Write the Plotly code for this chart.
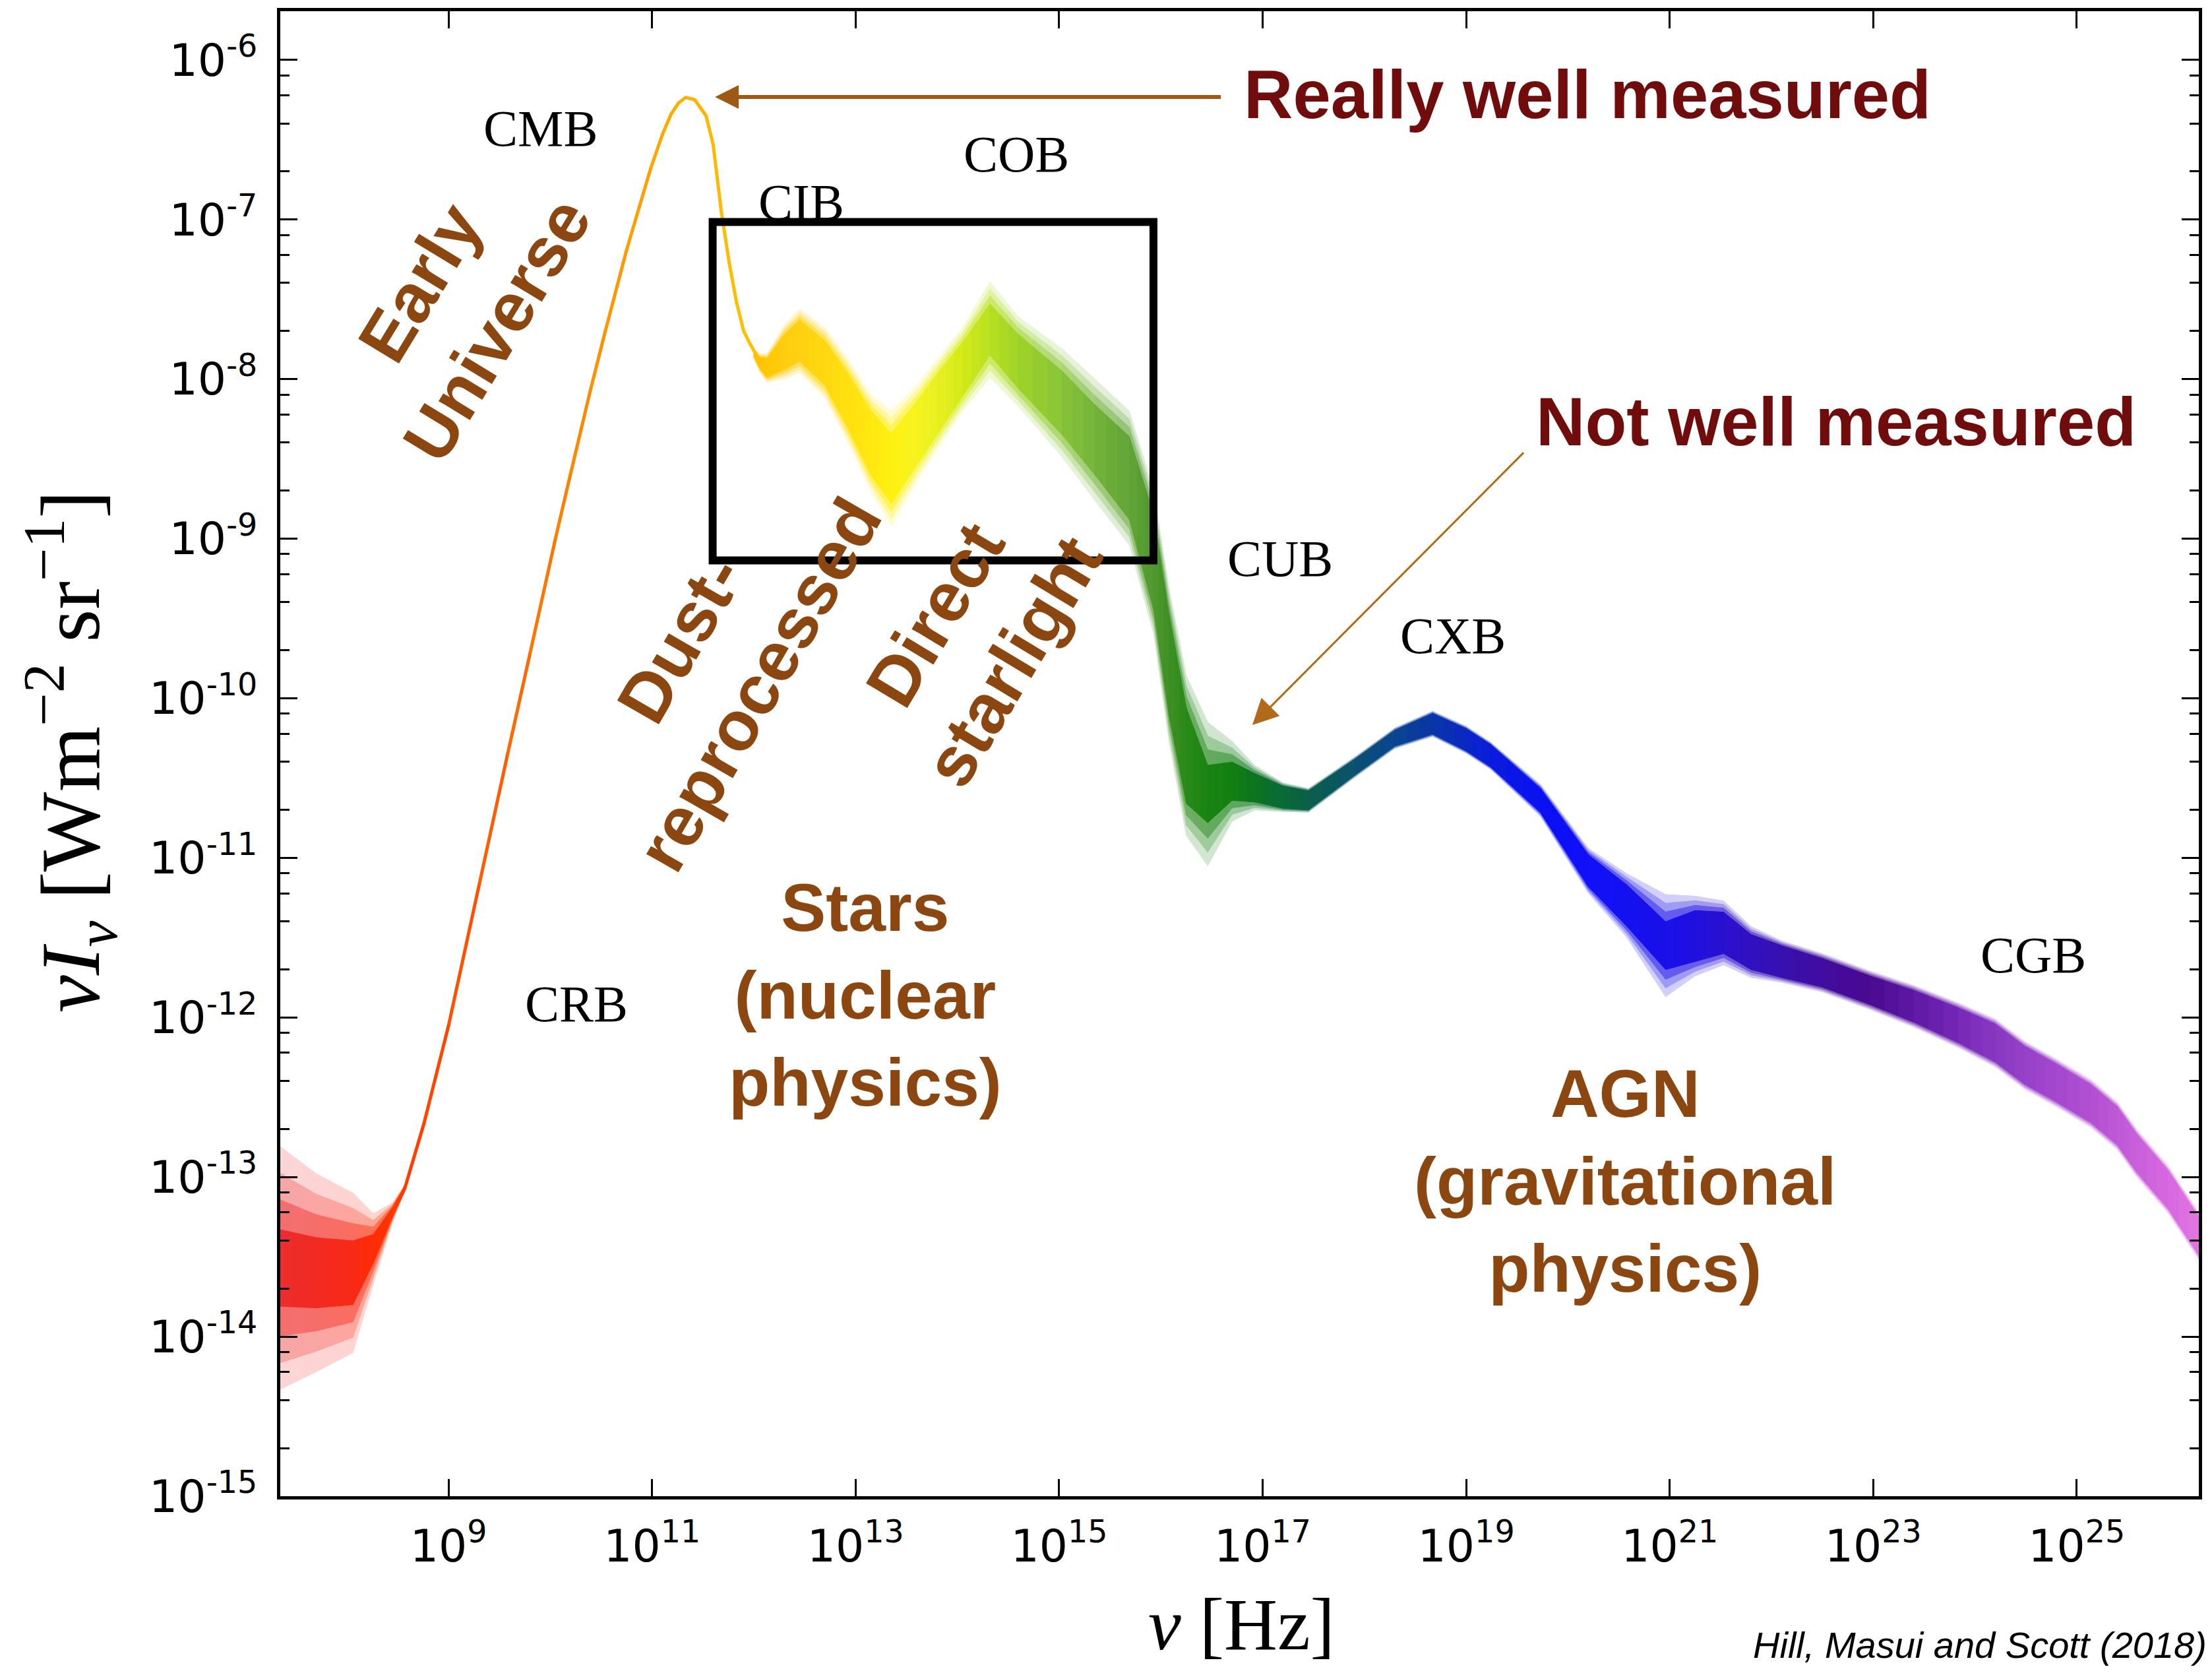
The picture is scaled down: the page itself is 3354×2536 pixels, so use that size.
import plotly.graph_objects as go

# ---------------- data ----------------
X_TICK_EXP = [9, 11, 13, 15, 17, 19, 21, 23, 25]
Y_TICK_EXP = [-6, -7, -8, -9, -10, -11, -12, -13, -14, -15]

# Cosmic radio background (low-frequency uncertain cloud)
CRB_LOG_NU = [7.346, 7.70, 8.06, 8.26, 8.45, 8.57]
CRB_LOG_FLUX = [-13.57, -13.60, -13.60, -13.45, -13.22, -13.07]
CRB_CORE_DEX = [0.24, 0.22, 0.20, 0.09, 0.03, 0.015]
CRB_HALO_DEX = [0.76, 0.62, 0.50, 0.22, 0.06, 0.02]
CRB_COLORS = ["#ec2c2c", "#f22a24", "#f82a16", "#ff2c06", "#ff3600", "#ff3c00"]

# CMB (well measured thin line)
CMB_LOG_NU = [8.45, 8.57, 8.76, 9.0, 9.3, 9.58, 9.8, 10.05, 10.2, 10.39, 10.54, 10.75,
              10.986, 11.1, 11.186, 11.26, 11.33, 11.42, 11.53, 11.6, 11.68, 11.76, 11.83,
              11.9, 11.963, 12.06, 12.13]
CMB_LOG_FLUX = [-13.22, -13.07, -12.66, -12.05, -11.17, -10.35, -9.72, -9.00, -8.59, -8.08,
                -7.70, -7.19, -6.68, -6.47, -6.34, -6.27, -6.235, -6.25, -6.35, -6.53,
                -6.95, -7.28, -7.52, -7.70, -7.78, -7.89, -7.93]
CMB_COLORS = ["#ff3800", "#ff3c00", "#ff4200", "#ff4a00", "#ff5600", "#ff6400", "#ff6e00",
              "#ff7c00", "#ff8400", "#ff8c00", "#ff9400", "#ff9c00", "#ffa400", "#ffa800",
              "#ffac00", "#ffb000", "#ffb200", "#ffb400", "#ffb600", "#ffb800", "#ffba00",
              "#ffbc00", "#ffbe00", "#ffc000", "#ffc000", "#ffc200", "#ffc400"]

# CIB -> CGB band
BAND_LOG_NU = [12.0, 12.06, 12.13, 12.3, 12.45, 12.7, 12.92, 13.15, 13.35, 13.6, 13.81,
               14.05, 14.32, 14.6, 15.03, 15.35, 15.69, 15.93, 16.08, 16.25, 16.46, 16.7,
               16.92, 17.2, 17.45, 17.91, 18.3, 18.67, 19.0, 19.24, 19.73, 20.2, 20.58,
               20.96, 21.25, 21.53, 21.8, 22.1, 22.5, 22.97, 23.4, 23.84, 24.2, 24.49,
               24.8, 25.14, 25.4, 25.59, 25.9, 26.2]
BAND_LOG_FLUX = [-7.84, -7.90, -7.93, -7.83, -7.76, -7.90, -8.13, -8.40, -8.56, -8.34, -8.15,
                 -7.94, -7.69, -7.89, -8.15, -8.38, -8.62, -9.15, -9.79, -10.36, -10.60,
                 -10.52, -10.56, -10.62, -10.64, -10.43, -10.25, -10.16, -10.26, -10.36,
                 -10.64, -11.08, -11.30, -11.55, -11.49, -11.47, -11.59, -11.65, -11.72,
                 -11.83, -11.93, -12.05, -12.16, -12.30, -12.41, -12.54, -12.68, -12.85,
                 -13.08, -13.37]
BAND_CORE_DEX = [0.02, 0.035, 0.06, 0.11, 0.13, 0.14, 0.17, 0.20, 0.22, 0.20, 0.19,
                 0.17, 0.16, 0.17, 0.20, 0.22, 0.26, 0.30, 0.32, 0.30, 0.18, 0.12,
                 0.09, 0.07, 0.06, 0.05, 0.05, 0.065, 0.07, 0.07, 0.075, 0.10, 0.13,
                 0.15, 0.16, 0.13, 0.11, 0.10, 0.09, 0.09, 0.10, 0.11, 0.12, 0.12,
                 0.12, 0.12, 0.12, 0.12, 0.12, 0.12]
BAND_HALO_DEX = [0.03, 0.06, 0.09, 0.17, 0.20, 0.22, 0.26, 0.30, 0.36, 0.30, 0.28,
                 0.26, 0.30, 0.28, 0.34, 0.38, 0.42, 0.45, 0.48, 0.50, 0.45, 0.25,
                 0.14, 0.09, 0.075, 0.065, 0.065, 0.08, 0.085, 0.085, 0.10, 0.14, 0.20,
                 0.32, 0.25, 0.20, 0.16, 0.13, 0.12, 0.12, 0.13, 0.14, 0.15, 0.15,
                 0.15, 0.15, 0.15, 0.15, 0.15, 0.15]
BAND_COLORS = ["#ffc200", "#ffc400", "#ffc800", "#ffcc10", "#ffd010", "#ffd810", "#ffe010",
               "#ffe810", "#fff010", "#f6f420", "#e8f020", "#d4ea18", "#b8e020", "#a0d428",
               "#88c438", "#74b43a", "#62a438", "#50982e", "#3e9024", "#2a8a18", "#1a8412",
               "#118010", "#0c7420", "#0a6a36", "#0a6048", "#0a5070", "#0a4490", "#0a36a6",
               "#0a28c4", "#0a1cdc", "#0a10f2", "#1010f8", "#1410f0", "#1a10e8", "#2010e0",
               "#2a10d0", "#3010c0", "#3810b0", "#400ca0", "#4a0a90", "#5e18a4", "#7628b6",
               "#8838c2", "#9640c8", "#a448ce", "#b250d2", "#be58d6", "#c860da", "#d668de",
               "#e476e2"]

# highlighted box (log10 units)
BOX_LOG_NU = [11.595, 15.927]
BOX_LOG_FLUX = [-9.136, -7.016]

# ---------------- geometry ----------------
W, H = 3354, 2536
PL, PR, PT, PB = 425, 3334, 15, 2268
X_RANGE = [7.346, 26.20]
Y_RANGE = [-15.0, -5.695]


def px(xp, yp):
    return (xp - PL) / (PR - PL), (PB - yp) / (PB - PT)


def hex2rgb(h):
    h = h.lstrip("#")
    return tuple(int(h[i:i + 2], 16) for i in (0, 2, 4))


def rgb2str(c):
    return "rgb(%d,%d,%d)" % tuple(int(round(v)) for v in c)


def blend(c1, c2, t):
    return tuple(a + (b - a) * t for a, b in zip(c1, c2))


def lighten(c, f):
    return tuple(v + (255 - v) * f for v in c)


LAYERS = [(1.0, 0.80), (0.68, 0.58), (0.36, 0.32), (0.0, 0.0)]  # (position between core/halo, whitening)
NSUB = 3


def band_layers(lognu, logf, core, halo, cols):
    out = []
    rgb = [hex2rgb(c) for c in cols]
    for pos, fw in LAYERS:
        widths = [c + (h - c) * pos for c, h in zip(core, halo)]
        traces = []
        for i in range(len(lognu) - 1):
            for k in range(NSUB):
                # straight segment between two read points, drawn in NSUB colour steps
                t0, t1 = k / NSUB, (k + 1) / NSUB
                lx0 = lognu[i] + (lognu[i + 1] - lognu[i]) * t0
                lx1 = lognu[i] + (lognu[i + 1] - lognu[i]) * t1
                c0 = logf[i] + (logf[i + 1] - logf[i]) * t0
                c1 = logf[i] + (logf[i + 1] - logf[i]) * t1
                w0 = widths[i] + (widths[i + 1] - widths[i]) * t0
                w1 = widths[i] + (widths[i + 1] - widths[i]) * t1
                x0, x1 = 10 ** lx0, 10 ** lx1
                ys = [10 ** (c0 - w0), 10 ** (c1 - w1), 10 ** (c1 + w1), 10 ** (c0 + w0),
                      10 ** (c0 - w0)]
                col = rgb2str(lighten(blend(rgb[i], rgb[i + 1], (t0 + t1) / 2), fw))
                traces.append(go.Scatter(x=[x0, x1, x1, x0, x0], y=ys, mode="lines",
                                         fill="toself", fillcolor=col,
                                         line=dict(color=col, width=1),
                                         hoverinfo="skip", showlegend=False))
        out.append(traces)
    return out


fig = go.Figure()

crb = band_layers(CRB_LOG_NU, CRB_LOG_FLUX, CRB_CORE_DEX, CRB_HALO_DEX, CRB_COLORS)
band = band_layers(BAND_LOG_NU, BAND_LOG_FLUX, BAND_CORE_DEX, BAND_HALO_DEX, BAND_COLORS)
for layer in range(len(LAYERS)):
    for t in crb[layer] + band[layer]:
        fig.add_trace(t)

# CMB thin line, coloured segment by segment
cmb_rgb = [hex2rgb(c) for c in CMB_COLORS]
for i in range(len(CMB_LOG_NU) - 1):
    col = rgb2str(blend(cmb_rgb[i], cmb_rgb[i + 1], 0.5))
    fig.add_trace(go.Scatter(x=[10 ** CMB_LOG_NU[i], 10 ** CMB_LOG_NU[i + 1]],
                             y=[10 ** CMB_LOG_FLUX[i], 10 ** CMB_LOG_FLUX[i + 1]],
                             mode="lines", line=dict(color=col, width=5),
                             hoverinfo="skip", showlegend=False))
fig.add_trace(go.Scatter(x=[10 ** v for v in CMB_LOG_NU], y=[10 ** v for v in CMB_LOG_FLUX],
                         mode="markers", marker=dict(size=5, color=CMB_COLORS, line=dict(width=0)),
                         hoverinfo="skip", showlegend=False))

# black box
bx0, bx1 = 10 ** BOX_LOG_NU[0], 10 ** BOX_LOG_NU[1]
by0, by1 = 10 ** BOX_LOG_FLUX[0], 10 ** BOX_LOG_FLUX[1]
bxm = 10 ** ((BOX_LOG_NU[0] + BOX_LOG_NU[1]) / 2)
fig.add_trace(go.Scatter(x=[bxm, bx1, bx1, bx0, bx0, bxm], y=[by1, by1, by0, by0, by1, by1],
                         mode="lines", line=dict(color="black", width=12),
                         hoverinfo="skip", showlegend=False))

annotations = []
SERIF = "Liberation Serif"
SANS = "Liberation Sans"
BROWN = "#8c460f"
DARKRED = "#700c0c"

for txt, xp, yp in [("CMB", 819, 191), ("CIB", 1215, 303), ("COB", 1541, 230),
                    ("CUB", 1941, 843), ("CXB", 2203, 960), ("CGB", 3083, 1445),
                    ("CRB", 874, 1519)]:
    x, y = px(xp, yp + 2)
    annotations.append(dict(text=txt, x=x, y=y, xref="paper", yref="paper", showarrow=False,
                            xanchor="center", yanchor="middle",
                            font=dict(family=SERIF, size=78, color="black")))

for txt, xp, yp in [("Really well measured", 1884, 138), ("Not well measured", 2327, 634)]:
    x, y = px(xp, yp + 4)
    annotations.append(dict(text="<b>" + txt + "</b>", x=x, y=y, xref="paper", yref="paper",
                            showarrow=False, xanchor="left", yanchor="middle",
                            font=dict(family=SANS, size=103, color=DARKRED)))

for txt, xp, yp, ang, size in [
        ("Early<br>Universe", 695, 462, -58.7, 105),
        ("Dust-<br>reprocessed", 1091, 1002, -60, 106),
        ("Direct<br>starlight", 1477, 966, -59, 106),
        ("Stars<br>(nuclear<br>physics)", 1312, 1508, 0, 102),
        ("AGN<br>(gravitational<br>physics)", 2464, 1790, 0, 102)]:
    x, y = px(xp, yp)
    annotations.append(dict(text="<b>" + txt + "</b>", x=x, y=y, xref="paper", yref="paper",
                            showarrow=False, xanchor="center", yanchor="middle", align="center",
                            textangle=ang, font=dict(family=SANS, size=size, color=BROWN)))

# arrows (log10 data units for annotations on log axes)
annotations.append(dict(x=11.618, y=-6.232, ax=16.598, ay=-6.232, xref="x", yref="y",
                        axref="x", ayref="y", text="", showarrow=True, arrowhead=2,
                        arrowsize=1.2, arrowwidth=6, arrowcolor="#9c5a14"))
annotations.append(dict(x=16.899, y=-10.168, ax=19.574, ay=-8.455, xref="x", yref="y",
                        axref="x", ayref="y", text="", showarrow=True, arrowhead=2,
                        arrowsize=2.6, arrowwidth=3, arrowcolor="#b06a1a"))

# axis titles and credit
x, y = px(1882, 2462)
annotations.append(dict(text="<i>ν</i> [Hz]", x=x, y=y, xref="paper", yref="paper",
                        showarrow=False, xanchor="center", yanchor="middle",
                        font=dict(family=SERIF, size=112, color="black")))
x, y = px(106, 1138)
annotations.append(dict(text="<i>ν</i><i>I</i><sub><i>ν</i></sub> [Wm<sup>−2</sup> sr<sup>−1</sup>]",
                        x=x, y=y, xref="paper", yref="paper", showarrow=False,
                        xanchor="center", yanchor="middle", textangle=-90,
                        font=dict(family=SERIF, size=128, color="black")))
x, y = px(3348, 2494)
annotations.append(dict(text="<i>Hill, Masui and Scott (2018)</i>", x=x, y=y, xref="paper",
                        yref="paper", showarrow=False, xanchor="right", yanchor="middle",
                        font=dict(family=SANS, size=56, color="black")))

tickfont = dict(family="DejaVu Sans", size=68, color="black")
fig.update_layout(
    width=W, height=H, autosize=False,
    margin=dict(l=PL, r=W - PR, t=PT, b=H - PB, pad=0),
    paper_bgcolor="white", plot_bgcolor="white",
    showlegend=False,
    annotations=annotations,
    xaxis=dict(type="log", range=X_RANGE, tickvals=[10.0 ** e for e in X_TICK_EXP],
               ticktext=["10<sup>%d</sup>" % e for e in X_TICK_EXP],
               ticks="inside", ticklen=26, tickwidth=3, tickcolor="black",
               showline=True, linecolor="black", linewidth=5, mirror="ticks",
               showgrid=False, zeroline=False, tickfont=tickfont, ticklabelstandoff=12),
    yaxis=dict(type="log", range=Y_RANGE, tickvals=[10.0 ** e for e in Y_TICK_EXP],
               ticktext=["10<sup>%d</sup>" % e for e in Y_TICK_EXP],
               ticks="inside", ticklen=26, tickwidth=3, tickcolor="black",
               showline=True, linecolor="black", linewidth=5, mirror="ticks",
               showgrid=False, zeroline=False, tickfont=tickfont, ticklabelstandoff=16,
               minor=dict(tickvals=[k * 10.0 ** e for e in range(-15, -5) for k in (2, 4, 6, 8)],
                          ticks="inside", ticklen=14, tickwidth=3, tickcolor="black",
                          showgrid=False)),
)

fig.write_html("out.html", post_script="document.body.style.margin='0';")
